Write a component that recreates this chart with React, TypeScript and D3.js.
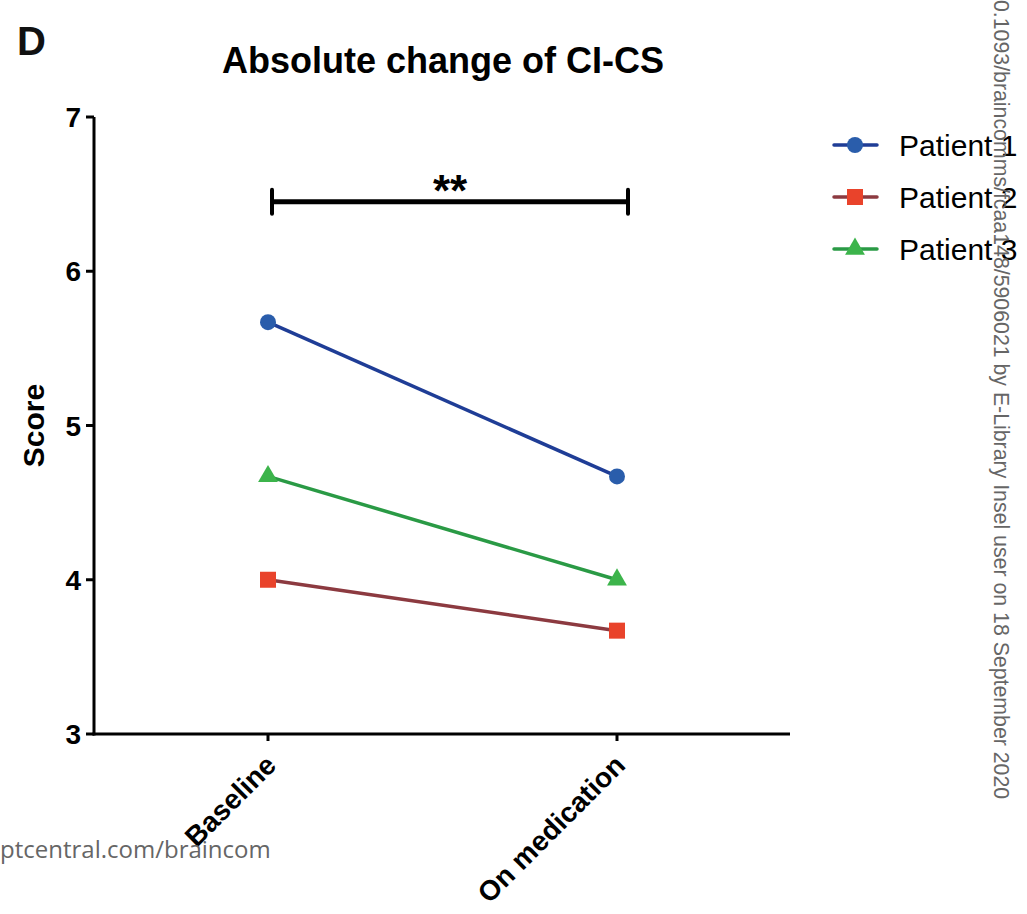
import React from "react";
import * as d3 from "d3";

const categories = ["Baseline", "On medication"];
const patients = ["Patient 1", "Patient 2", "Patient 3"];
const patient1 = [5.67, 4.67];
const patient2 = [4.0, 3.67];
const patient3 = [4.67, 4.0];
const yTicks = [3, 4, 5, 6, 7];
const sigLevel = 6.45;
const sigLabel = "**";

const lineColors = ["#1f3d96", "#8c3a40", "#2a9a45"];
const markerColors = ["#2a5dab", "#e9432b", "#3cb44b"];
const series = [patient1, patient2, patient3];

export default function App() {
  const W = 1027, H = 914;
  const x = d3.scalePoint<string>().domain(categories).range([268, 617]);
  const y = d3.scaleLinear().domain([3, 7]).range([734, 117]);
  const line = d3.line<number>().x((_, i) => x(categories[i])!).y((d) => y(d));
  const font = "Liberation Sans, Arial, sans-serif";

  const marker = (k: number, cx: number, cy: number, key: string) => {
    if (k === 0) return <circle key={key} cx={cx} cy={cy} r={8} fill={markerColors[0]} />;
    if (k === 1) return <rect key={key} x={cx - 8} y={cy - 8} width={16} height={16} fill={markerColors[1]} />;
    const s = d3.symbol(d3.symbolTriangle, 170)();
    return <path key={key} d={s || ""} transform={`translate(${cx},${cy})`} fill={markerColors[2]} />;
  };

  return (
    <svg width={W} height={H} style={{ position: "absolute", left: 0, top: 0, background: "#fff" }} fontFamily={font}>
      <rect width={W} height={H} fill="#fff" />
      <text x={17} y={55} fontSize={40} fontWeight="bold" fill="#111">D</text>
      <text x={443} y={73} fontSize={36} fontWeight="bold" textAnchor="middle">Absolute change of CI-CS</text>

      {/* y axis */}
      <line x1={94} x2={94} y1={y(7)} y2={y(3) + 1.5} stroke="#000" strokeWidth={3} />
      {yTicks.map((t) => (
        <g key={t}>
          <line x1={86} x2={94} y1={y(t)} y2={y(t)} stroke="#000" strokeWidth={3} />
          <text x={81} y={y(t)} dy="0.36em" fontSize={28} fontWeight="bold" textAnchor="end">{t}</text>
        </g>
      ))}
      <text transform={`translate(44,${y(5)}) rotate(-90)`} fontSize={30} fontWeight="bold" textAnchor="middle">Score</text>

      {/* x axis */}
      <line x1={92.5} x2={790} y1={y(3)} y2={y(3)} stroke="#000" strokeWidth={3} />
      {categories.map((c) => (
        <g key={c}>
          <line x1={x(c)!} x2={x(c)!} y1={y(3)} y2={y(3) + 7} stroke="#000" strokeWidth={3} />
          <text transform={`translate(${x(c)! - 4},${y(3) + 19}) rotate(-45)`} fontSize={28} fontWeight="bold" textAnchor="end" dy="0.7em">{c}</text>
        </g>
      ))}

      {/* significance bracket */}
      <line x1={272} x2={628} y1={y(sigLevel)} y2={y(sigLevel)} stroke="#000" strokeWidth={5} />
      <line x1={272} x2={272} y1={y(sigLevel) - 12} y2={y(sigLevel) + 12} stroke="#000" strokeWidth={4} strokeLinecap="round" />
      <line x1={628} x2={628} y1={y(sigLevel) - 12} y2={y(sigLevel) + 12} stroke="#000" strokeWidth={4} strokeLinecap="round" />
      <text x={450} y={y(sigLevel) + 4} fontSize={44} fontWeight="bold" textAnchor="middle">{sigLabel}</text>

      {/* data */}
      {series.map((s, k) => (
        <g key={k}>
          <path d={line(s) || ""} fill="none" stroke={lineColors[k]} strokeWidth={3.5} />
          {s.map((v, i) => marker(k, x(categories[i])!, y(v), `${k}-${i}`))}
        </g>
      ))}

      {/* legend */}
      {patients.map((p, k) => {
        const ly = 145 + k * 52;
        return (
          <g key={p}>
            <line x1={834} x2={877} y1={ly} y2={ly} stroke={lineColors[k]} strokeWidth={3.5} strokeLinecap="round" />
            {marker(k, 855, ly, `l${k}`)}
            <text x={899} y={ly} dy="0.36em" fontSize={30}>{p}</text>
          </g>
        );
      })}

      {/* watermarks */}
      <text transform="translate(994,0) rotate(90)" fontSize={21.3} fill="#666">0.1093/braincomms/fcaa148/5906021 by E-Library Insel user on 18 September 2020</text>
      <text x={0} y={858} fontSize={24} fill="#666" fontFamily="Open Sans, sans-serif">ptcentral.com/braincom</text>
    </svg>
  );
}
